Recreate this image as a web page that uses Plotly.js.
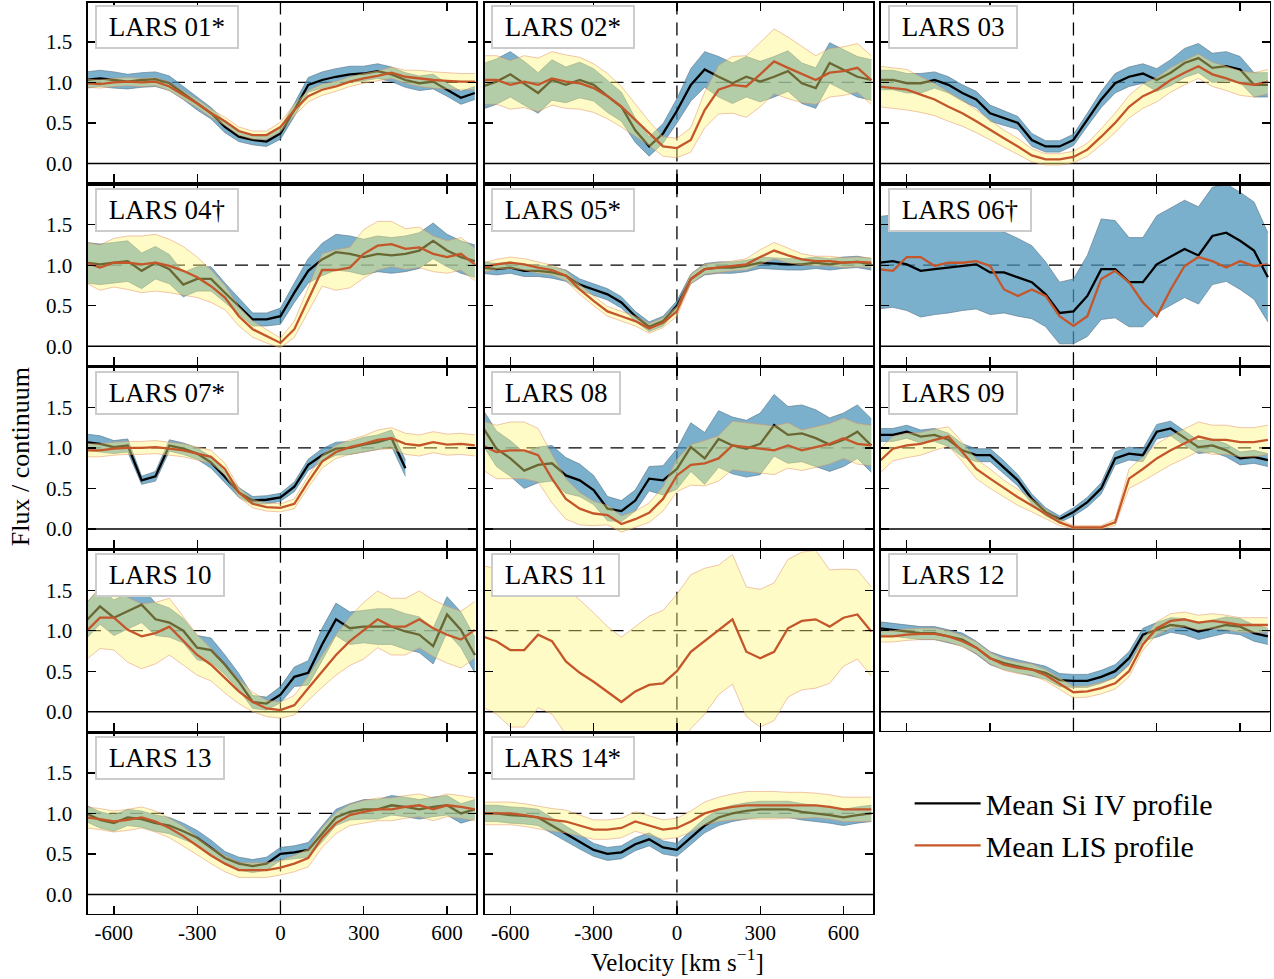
<!DOCTYPE html>
<html>
<head>
<meta charset="utf-8">
<script src="https://cdn.plot.ly/plotly-3.0.1.min.js"></script>
<style>html,body{margin:0;padding:0;background:#fff}#chart{width:1274px;height:979px}</style>
</head>
<body>
<div id="chart"></div>
<script>
// ---------- data ----------
const velocity = [-700,-650,-600,-550,-500,-450,-400,-350,-300,-250,-200,-150,-100,-50,0,50,100,150,200,250,300,350,400,450,500,550,600,650,700];
const panelLabels = ["LARS 01*","LARS 02*","LARS 03","LARS 04\u2020","LARS 05*","LARS 06\u2020","LARS 07*","LARS 08","LARS 09","LARS 10","LARS 11","LARS 12","LARS 13","LARS 14*"];
const xTickVals = [-600,-300,0,300,600];
const xTickText = ["-600","-300","0","300","600"];
const yTickVals = [0,0.5,1,1.5];
const yTickText = ["0.0","0.5","1.0","1.5"];
const seriesNames = ["Mean Si IV profile","Mean LIS profile"];

const L01_si     = [1.03,1.05,1.03,1.01,1.03,1.04,0.99,0.87,0.74,0.62,0.45,0.33,0.29,0.27,0.37,0.66,0.97,1.03,1.07,1.10,1.11,1.14,1.10,1.03,0.99,1.01,0.91,0.81,0.87];
const L01_siErr  = [0.10,0.10,0.10,0.09,0.09,0.09,0.09,0.08,0.08,0.07,0.07,0.06,0.06,0.06,0.07,0.08,0.09,0.10,0.10,0.10,0.09,0.09,0.09,0.09,0.09,0.09,0.08,0.08,0.08];
const L01_lis    = [0.99,0.98,1.00,1.01,1.00,1.01,0.95,0.85,0.74,0.62,0.52,0.40,0.35,0.35,0.45,0.66,0.83,0.91,0.95,1.01,1.05,1.08,1.12,1.07,1.05,1.03,1.02,1.01,1.01];
const L01_lisErr = [0.05,0.05,0.05,0.05,0.05,0.05,0.05,0.05,0.05,0.05,0.05,0.05,0.05,0.05,0.06,0.07,0.07,0.07,0.06,0.06,0.06,0.06,0.07,0.08,0.10,0.10,0.10,0.10,0.10];

const L02_si     = [0.95,1.01,1.10,0.99,0.87,1.03,0.97,1.03,0.97,0.83,0.70,0.41,0.21,0.37,0.65,0.97,1.16,1.07,0.99,1.07,1.01,1.07,1.14,0.99,0.93,1.24,1.16,1.07,1.03];
const L02_siErr  = [0.28,0.28,0.28,0.27,0.25,0.25,0.22,0.22,0.20,0.20,0.18,0.15,0.12,0.12,0.15,0.20,0.22,0.25,0.25,0.25,0.25,0.25,0.25,0.25,0.25,0.25,0.25,0.25,0.25];
const L02_lis    = [1.03,1.03,0.97,1.01,0.97,1.05,1.01,0.99,0.93,0.83,0.70,0.54,0.37,0.21,0.19,0.29,0.66,0.91,0.97,0.95,1.10,1.26,1.18,1.10,1.03,1.12,1.14,1.18,1.03];
const L02_lisErr = [0.30,0.30,0.30,0.32,0.33,0.33,0.33,0.32,0.30,0.28,0.25,0.20,0.15,0.12,0.12,0.15,0.22,0.30,0.35,0.38,0.40,0.40,0.38,0.35,0.30,0.30,0.30,0.30,0.30];

const L03_si     = [1.03,1.03,0.99,0.99,1.03,0.97,0.87,0.79,0.62,0.56,0.50,0.29,0.21,0.21,0.29,0.54,0.79,0.99,1.07,1.11,1.03,1.12,1.24,1.30,1.18,1.20,1.16,0.97,0.97];
const L03_siErr  = [0.12,0.12,0.12,0.12,0.10,0.10,0.10,0.10,0.10,0.09,0.08,0.08,0.07,0.07,0.07,0.08,0.10,0.12,0.12,0.12,0.14,0.16,0.18,0.18,0.18,0.18,0.16,0.15,0.15];
const L03_lis    = [0.95,0.93,0.91,0.85,0.79,0.70,0.62,0.52,0.41,0.31,0.21,0.10,0.05,0.05,0.08,0.17,0.33,0.50,0.70,0.83,0.91,1.03,1.12,1.20,1.10,1.05,0.99,0.97,1.01];
const L03_lisErr = [0.25,0.25,0.25,0.22,0.20,0.18,0.16,0.14,0.12,0.10,0.10,0.08,0.07,0.07,0.07,0.08,0.10,0.12,0.14,0.15,0.15,0.15,0.15,0.15,0.15,0.15,0.15,0.15,0.15];

const L04_si     = [1.03,1.01,1.03,1.05,0.93,1.03,0.95,0.76,0.83,0.83,0.66,0.50,0.33,0.33,0.37,0.66,0.93,1.07,1.16,1.14,1.10,1.14,1.12,1.14,1.18,1.30,1.18,1.10,1.05];
const L04_siErr  = [0.25,0.25,0.25,0.25,0.22,0.20,0.18,0.15,0.15,0.15,0.12,0.10,0.08,0.08,0.10,0.12,0.15,0.20,0.22,0.22,0.22,0.22,0.22,0.22,0.22,0.22,0.20,0.20,0.20];
const L04_lis    = [1.03,0.97,1.03,1.03,1.01,1.03,0.99,0.93,0.85,0.74,0.60,0.37,0.21,0.12,0.04,0.21,0.58,0.94,0.94,0.97,1.14,1.24,1.26,1.20,1.22,1.14,1.10,1.14,1.01];
const L04_lisErr = [0.25,0.28,0.30,0.33,0.35,0.35,0.33,0.30,0.25,0.20,0.15,0.12,0.10,0.08,0.06,0.10,0.15,0.20,0.25,0.25,0.30,0.30,0.28,0.25,0.25,0.22,0.20,0.20,0.20];

const L05_si     = [0.97,0.95,0.97,0.93,0.93,0.91,0.87,0.76,0.70,0.64,0.54,0.37,0.24,0.31,0.50,0.83,0.95,0.97,0.97,0.99,1.03,1.02,1.01,1.01,1.03,1.01,1.03,1.04,1.01];
const L05_siErr  = [0.07,0.07,0.07,0.07,0.07,0.07,0.07,0.07,0.07,0.07,0.07,0.06,0.06,0.06,0.06,0.06,0.07,0.07,0.07,0.07,0.07,0.07,0.07,0.07,0.07,0.07,0.07,0.07,0.07];
const L05_lis    = [0.97,1.01,1.03,1.01,0.97,0.94,0.87,0.70,0.56,0.43,0.37,0.31,0.22,0.29,0.43,0.83,0.95,0.97,0.99,1.01,1.10,1.18,1.12,1.07,1.05,1.05,1.03,1.04,1.03];
const L05_lisErr = [0.06,0.06,0.07,0.07,0.07,0.06,0.06,0.06,0.06,0.06,0.06,0.06,0.06,0.06,0.06,0.06,0.06,0.06,0.06,0.07,0.09,0.10,0.09,0.07,0.06,0.06,0.06,0.06,0.06];

const L06_si     = [1.03,1.05,1.01,0.93,0.95,0.97,0.99,1.01,0.91,0.91,0.85,0.79,0.64,0.41,0.43,0.62,0.95,0.95,0.79,0.79,1.01,1.10,1.20,1.12,1.36,1.40,1.30,1.18,0.85];
const L06_siErr  = [0.57,0.57,0.57,0.57,0.56,0.56,0.55,0.55,0.52,0.50,0.48,0.45,0.40,0.38,0.40,0.50,0.62,0.60,0.55,0.55,0.60,0.60,0.60,0.60,0.60,0.60,0.60,0.60,0.55];
const L06_lis    = [0.95,0.93,1.10,1.10,0.99,1.03,1.03,1.05,0.99,0.70,0.62,0.70,0.62,0.37,0.25,0.37,0.83,0.93,0.79,0.54,0.37,0.70,0.99,1.10,1.05,0.97,1.05,0.99,1.01];
const L06_lisErr = null;

const L07_si     = [1.07,1.05,1.01,1.03,0.60,0.65,1.03,0.99,0.93,0.82,0.64,0.45,0.35,0.36,0.39,0.52,0.79,0.91,0.99,1.00,1.04,1.07,1.12,0.75,null,null,null,null,null];
const L07_siErr  = [0.10,0.10,0.08,0.08,0.05,0.06,0.07,0.07,0.07,0.07,0.07,0.06,0.05,0.05,0.05,0.06,0.07,0.08,0.08,0.08,0.09,0.09,0.10,0.10,null,null,null,null,null];
const L07_lis    = [0.97,0.97,0.99,1.00,1.00,1.01,0.99,0.97,0.93,0.89,0.74,0.45,0.31,0.27,0.26,0.31,0.58,0.83,0.95,1.01,1.05,1.10,1.12,1.05,1.03,1.07,1.04,1.05,1.03];
const L07_lisErr = [0.08,0.08,0.08,0.08,0.08,0.08,0.08,0.08,0.08,0.08,0.07,0.06,0.05,0.05,0.05,0.06,0.07,0.08,0.08,0.09,0.10,0.12,0.13,0.13,0.13,0.13,0.13,0.13,0.13];

const L08_si     = [1.26,0.99,0.87,0.72,0.79,0.81,0.66,0.60,0.48,0.25,0.22,0.35,0.62,0.60,0.74,1.01,0.87,1.11,1.03,0.99,1.05,1.28,1.16,1.18,1.12,1.04,1.10,1.20,1.03];
const L08_siErr  = [0.22,0.22,0.22,0.22,0.22,0.22,0.22,0.20,0.18,0.15,0.13,0.13,0.15,0.18,0.25,0.30,0.32,0.35,0.35,0.35,0.38,0.38,0.35,0.35,0.35,0.33,0.33,0.33,0.33];
const L08_lis    = [1.03,0.95,0.97,0.97,0.91,0.62,0.37,0.25,0.19,0.17,0.06,0.12,0.20,0.37,0.66,0.79,0.81,0.87,1.03,1.01,0.99,0.97,1.03,0.97,1.01,1.05,1.12,1.05,1.03];
const L08_lisErr = [0.30,0.33,0.35,0.35,0.33,0.30,0.25,0.20,0.15,0.12,0.10,0.10,0.12,0.15,0.20,0.25,0.28,0.28,0.30,0.30,0.30,0.30,0.28,0.25,0.25,0.25,0.25,0.25,0.25];

const L09_si     = [1.16,1.16,1.20,1.14,1.16,1.10,0.97,0.91,0.91,0.76,0.60,0.37,0.21,0.12,0.21,0.33,0.50,0.87,0.93,0.91,1.20,1.24,1.12,1.01,1.03,0.97,0.87,0.89,0.85];
const L09_siErr  = [0.08,0.08,0.08,0.08,0.08,0.08,0.08,0.08,0.08,0.08,0.07,0.06,0.05,0.04,0.05,0.06,0.07,0.08,0.08,0.08,0.09,0.09,0.09,0.08,0.08,0.08,0.08,0.08,0.08];
const L09_lis    = [0.83,0.99,1.03,1.05,1.10,1.14,0.95,0.74,0.62,0.50,0.39,0.29,0.19,0.08,0.02,0.02,0.02,0.08,0.62,0.74,0.87,0.97,1.05,1.14,1.10,1.10,1.07,1.07,1.10];
const L09_lisErr = [0.15,0.15,0.15,0.14,0.13,0.12,0.12,0.12,0.12,0.10,0.10,0.08,0.06,0.04,0.02,0.02,0.02,0.04,0.12,0.15,0.18,0.18,0.18,0.18,0.18,0.18,0.18,0.18,0.18];

const L10_si     = [1.12,1.30,1.16,1.24,1.32,1.14,1.10,1.00,0.79,0.76,0.58,0.37,0.12,0.10,0.21,0.43,0.48,0.83,1.14,1.03,1.05,1.05,1.05,0.99,0.95,0.81,1.20,1.01,0.70];
const L10_siErr  = [0.22,0.22,0.22,0.22,0.22,0.20,0.18,0.15,0.15,0.15,0.12,0.10,0.08,0.08,0.10,0.12,0.15,0.20,0.20,0.20,0.20,0.22,0.22,0.22,0.22,0.22,0.22,0.22,0.22];
const L10_lis    = [0.99,1.16,1.16,1.01,0.93,0.97,1.05,0.87,0.70,0.58,0.41,0.25,0.12,0.04,0.02,0.08,0.29,0.50,0.70,0.87,1.00,1.14,1.05,1.05,1.14,1.03,0.95,0.89,1.01];
const L10_lisErr = [0.35,0.38,0.40,0.40,0.40,0.38,0.35,0.30,0.25,0.20,0.18,0.15,0.12,0.10,0.10,0.12,0.15,0.20,0.25,0.30,0.35,0.35,0.35,0.35,0.35,0.35,0.35,0.35,0.35];

const L11_si     = null;
const L11_siErr  = null;
const L11_lis    = [0.93,0.87,0.76,0.76,0.95,0.87,0.62,0.48,0.37,0.25,0.12,0.25,0.33,0.35,0.50,0.74,0.87,1.01,1.14,0.74,0.66,0.74,1.03,1.12,1.14,1.05,1.16,1.20,0.99];
const L11_lisErr = [0.87,0.90,0.95,0.95,0.90,0.90,0.90,0.90,0.85,0.80,0.80,0.80,0.85,0.90,0.95,0.95,0.90,0.80,0.80,0.80,0.85,0.85,0.85,0.85,0.85,0.70,0.60,0.55,0.55];

const L12_si     = [1.03,1.01,0.99,0.97,0.97,0.93,0.89,0.79,0.66,0.60,0.56,0.52,0.48,0.39,0.38,0.38,0.43,0.50,0.66,0.95,1.01,1.07,1.05,0.99,1.03,1.07,1.05,0.97,0.93];
const L12_siErr  = [0.08,0.08,0.08,0.08,0.08,0.08,0.08,0.08,0.08,0.08,0.08,0.08,0.08,0.08,0.08,0.08,0.08,0.08,0.08,0.08,0.09,0.09,0.10,0.10,0.10,0.10,0.10,0.10,0.10];
const L12_lis    = [0.93,0.93,0.95,0.96,0.96,0.93,0.87,0.79,0.66,0.58,0.54,0.52,0.45,0.35,0.24,0.25,0.29,0.35,0.50,0.83,1.03,1.12,1.14,1.10,1.12,1.10,1.07,1.07,1.07];
const L12_lisErr = [0.07,0.07,0.07,0.07,0.07,0.07,0.07,0.07,0.07,0.07,0.07,0.07,0.07,0.07,0.07,0.07,0.07,0.07,0.07,0.07,0.08,0.09,0.09,0.09,0.09,0.09,0.09,0.09,0.09];

const L13_si     = [1.00,0.92,0.88,0.95,0.93,0.88,0.85,0.78,0.70,0.58,0.45,0.38,0.35,0.38,0.50,0.52,0.55,0.75,0.95,1.02,1.05,1.05,1.10,1.08,1.05,1.08,1.10,1.00,1.05];
const L13_siErr  = [0.10,0.10,0.10,0.10,0.10,0.10,0.10,0.10,0.09,0.09,0.08,0.08,0.08,0.08,0.08,0.08,0.09,0.10,0.10,0.10,0.12,0.12,0.12,0.12,0.12,0.12,0.12,0.12,0.12];
const L13_lis    = [0.95,0.93,0.90,0.92,0.95,0.90,0.82,0.72,0.60,0.48,0.38,0.30,0.30,0.30,0.33,0.38,0.45,0.70,0.88,0.98,1.02,1.05,1.05,1.08,1.10,1.05,1.10,1.08,1.05];
const L13_lisErr = [0.13,0.13,0.13,0.13,0.13,0.13,0.12,0.12,0.11,0.10,0.10,0.09,0.09,0.09,0.09,0.10,0.11,0.12,0.13,0.13,0.14,0.14,0.14,0.14,0.14,0.14,0.14,0.14,0.14];

const L14_si     = [1.00,1.00,0.98,0.97,0.95,0.85,0.75,0.65,0.55,0.50,0.52,0.62,0.68,0.58,0.55,0.70,0.85,0.95,1.00,1.03,1.05,1.05,1.05,1.02,1.00,0.98,0.95,0.98,1.00];
const L14_siErr  = [0.10,0.10,0.10,0.10,0.10,0.10,0.10,0.09,0.08,0.08,0.08,0.08,0.08,0.08,0.08,0.08,0.09,0.10,0.10,0.10,0.10,0.10,0.10,0.10,0.10,0.10,0.10,0.10,0.10];
const L14_lis    = [1.00,1.00,1.00,0.98,0.95,0.92,0.90,0.85,0.80,0.80,0.82,0.90,0.85,0.80,0.82,0.90,1.00,1.05,1.08,1.10,1.10,1.10,1.10,1.10,1.10,1.08,1.05,1.05,1.05];
const L14_lisErr = [0.14,0.14,0.14,0.14,0.14,0.14,0.14,0.13,0.12,0.12,0.12,0.12,0.12,0.12,0.12,0.13,0.14,0.15,0.16,0.17,0.17,0.17,0.16,0.16,0.15,0.15,0.15,0.15,0.15];

const panelSeries = [
  [L01_si,L01_siErr,L01_lis,L01_lisErr],
  [L02_si,L02_siErr,L02_lis,L02_lisErr],
  [L03_si,L03_siErr,L03_lis,L03_lisErr],
  [L04_si,L04_siErr,L04_lis,L04_lisErr],
  [L05_si,L05_siErr,L05_lis,L05_lisErr],
  [L06_si,L06_siErr,L06_lis,L06_lisErr],
  [L07_si,L07_siErr,L07_lis,L07_lisErr],
  [L08_si,L08_siErr,L08_lis,L08_lisErr],
  [L09_si,L09_siErr,L09_lis,L09_lisErr],
  [L10_si,L10_siErr,L10_lis,L10_lisErr],
  [L11_si,L11_siErr,L11_lis,L11_lisErr],
  [L12_si,L12_siErr,L12_lis,L12_lisErr],
  [L13_si,L13_siErr,L13_lis,L13_lisErr],
  [L14_si,L14_siErr,L14_lis,L14_lisErr]
];

// ---------- styling / layout ----------
const FONT = "'Liberation Serif', 'Times New Roman', serif";
const colDom = [[0.0691,0.3740],[0.3803,0.6852],[0.6915,0.9965]];
const rowDom = [[0.8136,0.9969],[0.6269,0.8103],[0.4403,0.6236],[0.2536,0.4369],[0.0669,0.2503]];
const XRANGE = [-693,706];
const YRANGE = [-0.235,1.98];
const SHAPE = 'linear';

function bandEdge(mean, err, sign){
  return mean.map((v,k)=> (v==null || err[k]==null) ? null : +(v + sign*err[k]).toFixed(3));
}

const traces = [];
const shapes = [];
const annotations = [];
const layout = {
  width:1274, height:979,
  margin:{l:0,r:0,t:0,b:0},
  paper_bgcolor:'#ffffff', plot_bgcolor:'#ffffff',
  font:{family:FONT, color:'#000'},
  hovermode:false,
  showlegend:true,
  legend:{x:0.714, y:0.206, xanchor:'left', yanchor:'top', font:{family:FONT,size:30,color:'#000'},
          bgcolor:'rgba(0,0,0,0)', tracegroupgap:0, itemwidth:66}
};

panelSeries.forEach((p,i)=>{
  const [si, siErr, lis, lisErr] = p;
  const n = i===0 ? '' : String(i+1);
  const xa = 'x'+n, ya = 'y'+n;
  const row = Math.floor(i/3), col = i%3;

  if (si){
    traces.push({x:velocity, y:bandEdge(si,siErr,-1), xaxis:xa, yaxis:ya, type:'scatter', mode:'lines',
      line:{shape:SHAPE, color:'rgba(95,125,145,0.85)', width:0.8}, showlegend:false, hoverinfo:'skip'});
    traces.push({x:velocity, y:bandEdge(si,siErr,1), xaxis:xa, yaxis:ya, type:'scatter', mode:'lines',
      fill:'tonexty', fillcolor:'rgba(70,145,185,0.72)',
      line:{shape:SHAPE, color:'rgba(95,125,145,0.85)', width:0.8}, showlegend:false, hoverinfo:'skip'});
    traces.push({x:velocity, y:si, xaxis:xa, yaxis:ya, type:'scatter', mode:'lines', name:seriesNames[0],
      legendgroup:'si', showlegend:i===0, line:{shape:SHAPE, color:'#000000', width:2.3}});
  }
  if (lisErr){
    traces.push({x:velocity, y:bandEdge(lis,lisErr,-1), xaxis:xa, yaxis:ya, type:'scatter', mode:'lines',
      line:{shape:SHAPE, color:'rgba(225,140,100,0.55)', width:0.9}, showlegend:false, hoverinfo:'skip'});
    traces.push({x:velocity, y:bandEdge(lis,lisErr,1), xaxis:xa, yaxis:ya, type:'scatter', mode:'lines',
      fill:'tonexty', fillcolor:'rgba(255,246,120,0.42)',
      line:{shape:SHAPE, color:'rgba(225,140,100,0.55)', width:0.9}, showlegend:false, hoverinfo:'skip'});
  }
  traces.push({x:velocity, y:lis, xaxis:xa, yaxis:ya, type:'scatter', mode:'lines', name:seriesNames[1],
    legendgroup:'lis', showlegend:i===0, line:{shape:SHAPE, color:'#c4562a', width:2.3}});

  const axCommon = {showgrid:false, zeroline:false, showline:true, linecolor:'#000', linewidth:1.6,
    mirror:'ticks', ticks:'inside', ticklen:8, tickwidth:1.3, tickcolor:'#000', fixedrange:true,
    tickfont:{family:FONT, size:21, color:'#000'}, tickmode:'array'};
  layout['xaxis'+n] = Object.assign({}, axCommon, {domain:colDom[col], range:XRANGE, anchor:ya,
    tickvals:xTickVals, ticktext:xTickText, showticklabels:row===4, ticklabelstandoff:0});
  layout['yaxis'+n] = Object.assign({}, axCommon, {domain:rowDom[row], range:YRANGE, anchor:xa,
    tickvals:yTickVals, ticktext:yTickText, showticklabels:col===0, ticklabelstandoff:10});

  shapes.push({type:'line', layer:'below', xref:xa, yref:ya+' domain', x0:0, x1:0, y0:0, y1:1,
    line:{color:'#000', width:1.3, dash:'13px,8px'}});
  shapes.push({type:'line', layer:'below', xref:xa+' domain', yref:ya, x0:0, x1:1, y0:1, y1:1,
    line:{color:'#000', width:1.3, dash:'13px,8px'}});
  shapes.push({type:'line', layer:'below', xref:xa+' domain', yref:ya, x0:0, x1:1, y0:0, y1:0,
    line:{color:'#000', width:1.5}});

  annotations.push({xref:xa+' domain', yref:ya+' domain', x:0.018, y:0.988, xanchor:'left', yanchor:'top',
    text:'\u00a0'+panelLabels[i]+'\u00a0', showarrow:false, font:{family:FONT, size:27, color:'#000'},
    bgcolor:'#ffffff', bordercolor:'#cccccc', borderwidth:2, borderpad:5});
});

annotations.push({xref:'paper', yref:'paper', x:0.0157, y:0.533, xanchor:'center', yanchor:'middle',
  text:'Flux / continuum', textangle:-90, showarrow:false, font:{family:FONT, size:26, color:'#000'}});
annotations.push({xref:'paper', yref:'paper', x:0.5314, y:0.019, xanchor:'center', yanchor:'middle',
  text:'Velocity [km s<sup>\u22121</sup>]', showarrow:false, font:{family:FONT, size:25, color:'#000'}});

layout.shapes = shapes;
layout.annotations = annotations;

Plotly.newPlot('chart', traces, layout, {staticPlot:true, displayModeBar:false});
</script>
</body>
</html>
